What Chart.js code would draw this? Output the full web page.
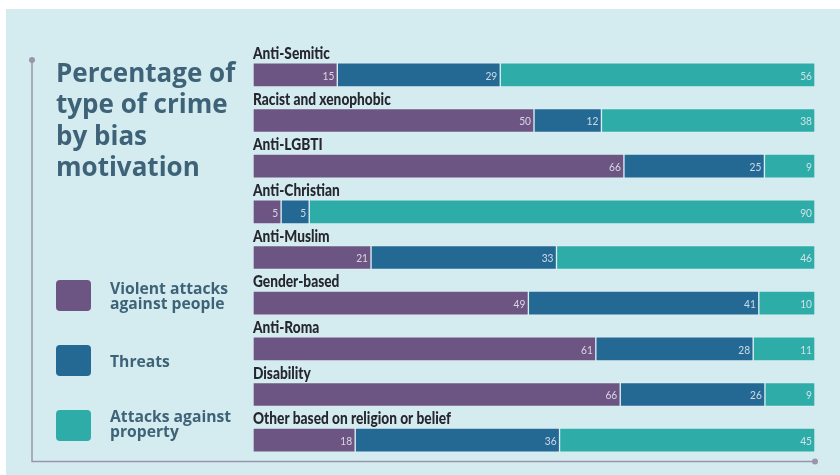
<!DOCTYPE html>
<html>
<head>
<meta charset="utf-8">
<script src="https://cdn.jsdelivr.net/npm/chart.js@4.4.0/dist/chart.umd.min.js"></script>
<style>
  html, body { margin: 0; padding: 0; background: #ffffff; }
  #wrap { width: 840px; height: 475px; }
</style>
</head>
<body>
<div id="wrap"><canvas id="myChart" width="840" height="475"></canvas></div>
<script>
var categories = [
    'Anti-Semitic',
    'Racist and xenophobic',
    'Anti-LGBTI',
    'Anti-Christian',
    'Anti-Muslim',
    'Gender-based',
    'Anti-Roma',
    'Disability',
    'Other based on religion or belief'
];
var violentAttacks = [15, 50, 66, 5, 21, 49, 61, 66, 18];
var threats = [29, 12, 25, 5, 33, 41, 28, 26, 36];
var propertyAttacks = [56, 38, 9, 90, 46, 10, 11, 9, 45];
var seriesNames = ['Violent attacks against people', 'Threats', 'Attacks against property'];
var titleLines = ['Percentage of', 'type of crime', 'by bias', 'motivation'];

var colors = ['#6c5582', '#236994', '#2eaca8'];
var panelColor = '#d4ecf0';
var textBlue = '#3e6277';
var axisColor = '#9b94ad';

// rows are rounded figures, so scale each row to fill 100
function share(values, i) {
    var total = violentAttacks[i] + threats[i] + propertyAttacks[i];
    return values[i] * 100 / total;
}
function shares(values) {
    return values.map(function (v, i) { return share(values, i); });
}
var rawSeries = [violentAttacks, threats, propertyAttacks];

// narrow text: squeeze horizontally to get a condensed look
function narrowText(c, text, x, y, squeeze) {
    c.save();
    c.translate(x, y);
    c.scale(squeeze, 1);
    c.fillText(text, 0, 0);
    c.restore();
}

var frame = {
    id: 'frame',
    beforeDraw: function (chart) {
        var c = chart.ctx;
        c.save();
        c.fillStyle = '#ffffff';
        c.fillRect(0, 0, chart.width, chart.height);
        c.fillStyle = panelColor;
        c.fillRect(6, 9, chart.width - 6, chart.height - 9);

        // axis lines with end dots
        c.strokeStyle = axisColor;
        c.lineWidth = 1.5;
        c.beginPath();
        c.moveTo(32, 60);
        c.lineTo(32, 461.5);
        c.lineTo(815, 461.5);
        c.stroke();
        c.fillStyle = axisColor;
        c.beginPath(); c.arc(32, 60, 3, 0, Math.PI * 2); c.fill();
        c.beginPath(); c.arc(815, 461.5, 3, 0, Math.PI * 2); c.fill();

        // title
        c.fillStyle = textBlue;
        c.font = 'bold 26px "Open Sans"';
        c.textBaseline = 'alphabetic';
        c.textAlign = 'left';
        titleLines.forEach(function (t, i) {
            c.fillText(t, 56, 82 + i * 31.3);
        });

        // legend
        var legendRows = [
            { y: 280, lines: ['Violent attacks', 'against people'], base: 294 },
            { y: 345, lines: ['Threats'], base: 367 },
            { y: 410, lines: ['Attacks against', 'property'], base: 422 }
        ];
        c.font = 'bold 15.7px "Open Sans"';
        legendRows.forEach(function (r, i) {
            c.fillStyle = colors[i];
            c.beginPath();
            c.roundRect(56, r.y, 35, 31, 4);
            c.fill();
            c.fillStyle = textBlue;
            r.lines.forEach(function (t, j) {
                c.fillText(t, 110, r.base + j * 15);
            });
        });
        c.restore();
    },
    afterDatasetsDraw: function (chart) {
        var c = chart.ctx;
        c.save();
        // category names above bars
        var first = chart.getDatasetMeta(0);
        c.fillStyle = '#26262e';
        c.font = '900 16.5px Lato';
        c.textAlign = 'left';
        c.textBaseline = 'alphabetic';
        first.data.forEach(function (bar, i) {
            narrowText(c, categories[i], chart.chartArea.left, bar.y - bar.height / 2 - 4, 0.83);
        });
        // value labels inside segments
        c.fillStyle = 'rgba(235,235,245,0.85)';
        c.font = '12px Lato';
        c.textAlign = 'right';
        c.textBaseline = 'middle';
        chart.data.datasets.forEach(function (ds, d) {
            chart.getDatasetMeta(d).data.forEach(function (bar, i) {
                narrowText(c, String(rawSeries[d][i]), bar.x - 3, bar.y + 1, 0.85);
            });
        });
        c.restore();
    }
};

var ctx = document.getElementById('myChart').getContext('2d');
var myChart = new Chart(ctx, {
    type: 'bar',
    data: {
        labels: categories,
        datasets: rawSeries.map(function (values, d) {
            return {
                label: seriesNames[d],
                data: shares(values),
                backgroundColor: colors[d],
                borderColor: 'rgba(220,238,243,0.9)',
                borderWidth: 1,
                borderSkipped: false,
                barThickness: 24
            };
        })
    },
    options: {
        indexAxis: 'y',
        responsive: false,
        animation: false,
        devicePixelRatio: 1,
        layout: {
            padding: { left: 253, right: 25, top: 52, bottom: 12 }
        },
        scales: {
            x: { stacked: true, min: 0, max: 100, display: false },
            y: { stacked: true, display: false }
        },
        plugins: {
            legend: { display: false },
            tooltip: { enabled: false },
            title: { display: false }
        }
    },
    plugins: [frame]
});
</script>
</body>
</html>
